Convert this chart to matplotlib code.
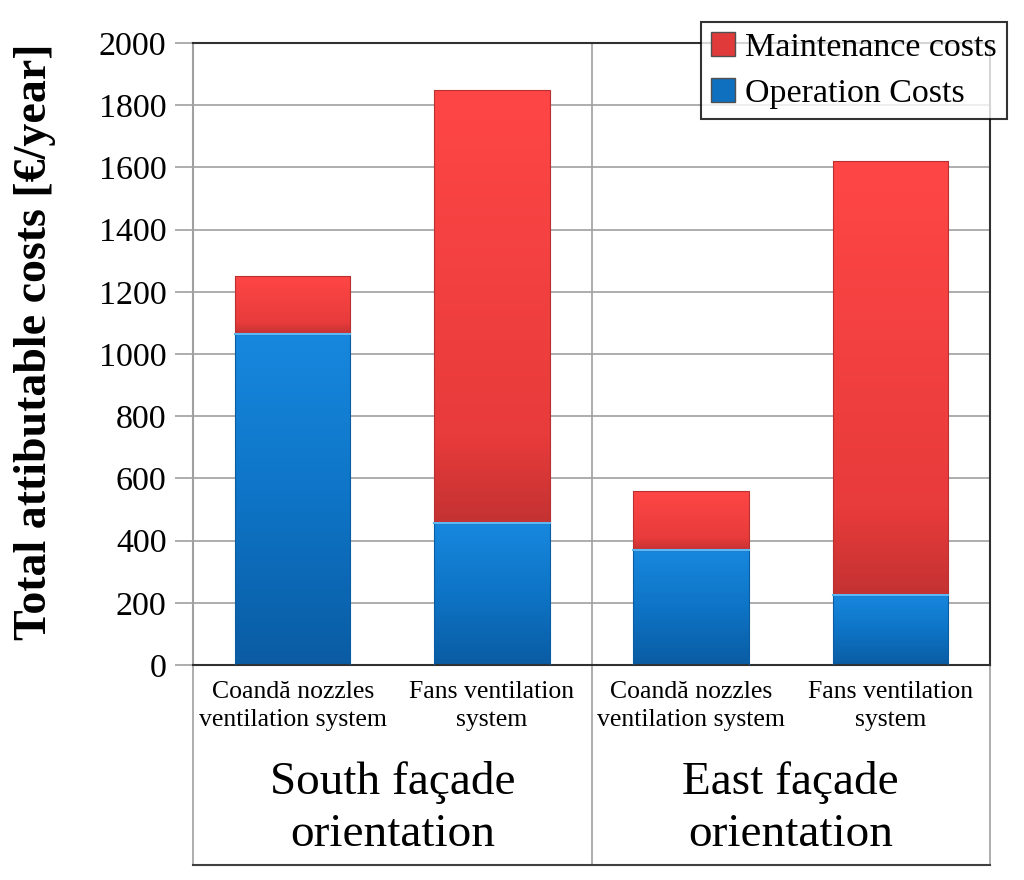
import numpy as np
import matplotlib
matplotlib.use("Agg")
import matplotlib.pyplot as plt
from matplotlib.colors import LinearSegmentedColormap
from matplotlib.patches import Rectangle

systems = ["Coandă nozzles\nventilation system", "Fans ventilation\nsystem",
           "Coandă nozzles\nventilation system", "Fans ventilation\nsystem"]
groups = ["South façade\norientation", "East façade\norientation"]
operation = [1065, 455, 370, 225]
maintenance = [185, 1395, 190, 1395]
yticks = [0, 200, 400, 600, 800, 1000, 1200, 1400, 1600, 1800, 2000]

plt.rcParams['font.family'] = ['Liberation Serif', 'DejaVu Serif']

fig = plt.figure(figsize=(10.24, 8.8), dpi=100)
ax = fig.add_axes([193/1024, 1-665/880, 797/1024, 622/880])

x = np.arange(len(systems))
width = 0.58

red_cmap = LinearSegmentedColormap.from_list("r", [(0, "#C43232"), (0.2, "#E83B3B"), (1, "#FF4646")])
blue_cmap = LinearSegmentedColormap.from_list("b", [(0, "#0A5CA3"), (0.5, "#0E74C6"), (1, "#1788DE")])

grad = np.linspace(0, 1, 256).reshape(-1, 1)

def grad_bar(xc, bottom, height, cmap, edge):
    r = Rectangle((xc - width/2, bottom), width, height, facecolor='none',
                  edgecolor=edge, linewidth=0.8, zorder=3)
    ax.add_patch(r)
    im = ax.imshow(grad, cmap=cmap, aspect='auto', origin='lower',
                   extent=[xc - width/2, xc + width/2, bottom, bottom + height],
                   zorder=2, interpolation='bicubic')
    im.set_clip_path(r)

bars_op = ax.bar(x, operation, width, color='#0F78CC', label='Operation Costs', zorder=1, alpha=0)
bars_m = ax.bar(x, maintenance, width, bottom=operation, color='#F24040', label='Maintenance costs', zorder=1, alpha=0)
for xi, o, m in zip(x, operation, maintenance):
    grad_bar(xi, 0, o, blue_cmap, '#0A5CA3')
    grad_bar(xi, o, m, red_cmap, '#B83030')
    ax.plot([xi - width/2, xi + width/2], [o, o], color='#5BB8F5', lw=1.5, zorder=4)

ax.set_xlim(-0.5, 3.5)
ax.set_ylim(0, 2000)
ax.set_yticks(yticks)
ax.set_yticklabels([str(v) for v in yticks], fontsize=24.5)
ax.set_xticks([])
ax.yaxis.grid(True, color='#A0A0A0', lw=1.2, zorder=0)
ax.set_axisbelow(True)
ax.tick_params(axis='y', length=13, width=1.2, color='#A0A0A0', pad=6)
ax.spines['left'].set_color('#A0A0A0')
ax.spines['left'].set_linewidth(1.5)
for s in ['top', 'right', 'bottom']:
    ax.spines[s].set_color('#303030')
    ax.spines[s].set_linewidth(1.5)

ax.axvline(1.5, color='#A0A0A0', lw=1.2, zorder=1)

ax.set_ylabel("Total attibutable costs [€/year]", fontsize=33, fontweight='bold')
ax.yaxis.set_label_coords(-0.172, 0.52)

# category box below axes
ymin_box = -(865 - 665) / 622 * 2000
kw = dict(transform=ax.transData, clip_on=False, color='#A0A0A0', lw=1.2)
ax.plot([-0.5, -0.5], [0, ymin_box], **kw)
ax.plot([3.5, 3.5], [0, ymin_box], **kw)
ax.plot([1.5, 1.5], [0, ymin_box], **kw)
ax.plot([-0.5, 3.5], [ymin_box, ymin_box], clip_on=False, color='#404040', lw=1.5)

for xi, lab in zip(x, systems):
    ax.text(xi, -50, lab, ha='center', va='top', fontsize=18.5, linespacing=1.38)
for gi, lab in enumerate(groups):
    ax.text(0.5 + 2*gi, -310, lab, ha='center', va='top', fontsize=34, linespacing=1.28)

leg = ax.legend(handles=[bars_m, bars_op], labels=['Maintenance costs', 'Operation Costs'],
                loc='upper right', bbox_to_anchor=((1007-193)/797, (880-22-215)/622),
                fontsize=24.5, frameon=True, fancybox=False, edgecolor='black',
                handlelength=0.7, handleheight=0.7, handletextpad=0.3, borderpad=0.3,
                labelspacing=0.45, borderaxespad=0)
leg.get_frame().set_linewidth(1.5)
for h, c in zip(leg.legend_handles, ['#E03A3A', '#1070C0']):
    h.set_alpha(1)
    h.set_facecolor(c)
    h.set_edgecolor('#505050')
leg.set_zorder(10)

fig.savefig("out.png", dpi=100)
